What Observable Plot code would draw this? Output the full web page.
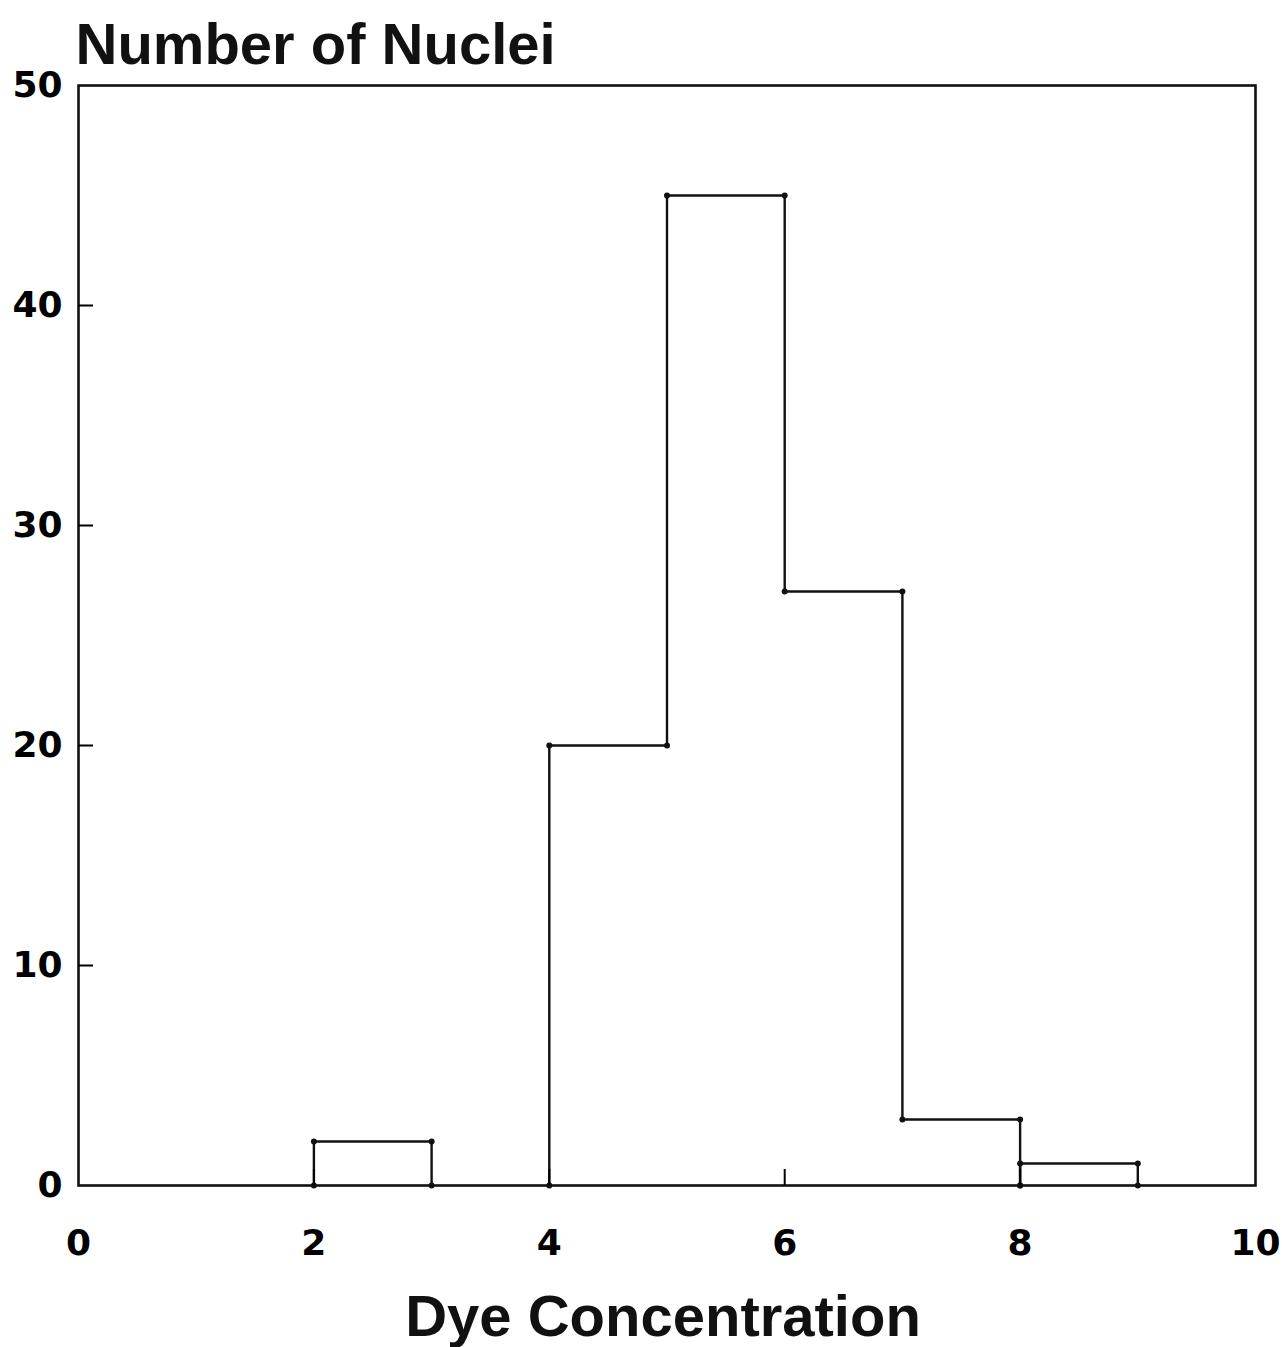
<!DOCTYPE html>
<html>
<head>
<meta charset="utf-8">
<script src="https://cdn.jsdelivr.net/npm/d3@7"></script>
<script src="https://cdn.jsdelivr.net/npm/@observablehq/plot@0.6"></script>
<style>
  html, body { margin: 0; padding: 0; background: #ffffff; }
  #chart svg { display: block; }
</style>
</head>
<body>
<div id="chart"></div>
<script>
// Histogram bins
const binStart = [2, 4, 5, 6, 7, 8];
const binEnd   = [3, 5, 6, 7, 8, 9];
const counts   = [2, 20, 45, 27, 3, 1];
// outline runs (the original draws the outline in three separate pieces)
const runs     = [0, 1, 1, 1, 1, 2];

const xTicks = [0, 2, 4, 6, 8, 10];
const yTicks = [0, 10, 20, 30, 40, 50];

const titleText = "Number of Nuclei";
const xLabelText = "Dye Concentration";

// Build step-outline vertices for each run from the bins
const outline = [];
d3.groups(binStart.map((s, i) => ({x1: s, x2: binEnd[i], y: counts[i], run: runs[i]})), d => d.run)
  .forEach(([run, bs]) => {
    outline.push({run, x: bs[0].x1, y: 0});
    bs.forEach(b => {
      outline.push({run, x: b.x1, y: b.y});
      outline.push({run, x: b.x2, y: b.y});
    });
    outline.push({run, x: bs[bs.length - 1].x2, y: 0});
  });

const font = "'Liberation Sans', Arial, Helvetica, sans-serif";
const numFont = "'DejaVu Sans', 'Liberation Sans', sans-serif";

const chart = Plot.plot({
  width: 1282,
  height: 1347,
  marginLeft: 78,
  marginRight: 27,
  marginTop: 85,
  marginBottom: 162,
  style: {fontFamily: font, background: "#ffffff", color: "#000"},
  x: {domain: [0, 10]},
  y: {domain: [0, 50]},
  marks: [
    Plot.line(outline, {x: "x", y: "y", z: "run", stroke: "#111", strokeWidth: 2.4, curve: "linear"}),
    Plot.dot(outline, {x: "x", y: "y", r: 3, fill: "#111", stroke: "none"}),
    Plot.frame({stroke: "#111", strokeWidth: 2.6}),
    Plot.axisY({ticks: yTicks, tickSize: 0, tickPadding: 16, fontSize: 36, fontWeight: "bold", fontFamily: numFont, label: null}),
    Plot.axisY({ticks: yTicks.slice(1, -1), tickSize: -15, text: null, strokeWidth: 2, label: null}),
    Plot.axisX({ticks: xTicks, tickSize: 0, tickPadding: 44, fontSize: 36, fontWeight: "bold", fontFamily: numFont, label: null}),
    Plot.axisX({ticks: xTicks.slice(1, -1), tickSize: -16, text: null, strokeWidth: 2, label: null}),
    Plot.text([titleText], {frameAnchor: "top-left", text: d => d, textAnchor: "start", lineAnchor: "bottom",
      dx: -3, dy: -22, fontSize: 58, fontWeight: "bold", fill: "#111"}),
    Plot.text([xLabelText], {frameAnchor: "bottom", text: d => d, textAnchor: "middle", lineAnchor: "bottom",
      dx: -4, dy: 150, fontSize: 58, fontWeight: "bold", fill: "#111"})
  ]
});

document.getElementById("chart").appendChild(chart);
</script>
</body>
</html>
